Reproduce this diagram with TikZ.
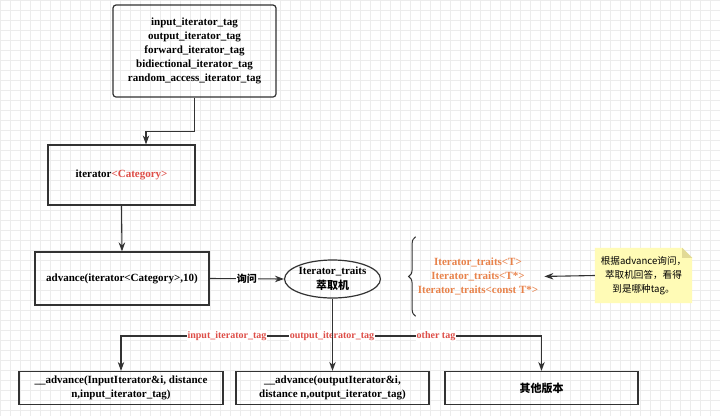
\documentclass[tikz,border=0pt]{standalone}
\usepackage{fontspec}
\setmainfont{Liberation Serif}
\newfontfamily\cjk{Noto Sans CJK SC}
\usepackage{tikz}
\usetikzlibrary{arrows.meta, positioning, decorations.pathreplacing, shapes.geometric, backgrounds}
\usepackage{xcolor}
\definecolor{tagred}{RGB}{222,78,72}
\definecolor{traitorange}{RGB}{232,130,74}
\definecolor{boxline}{RGB}{50,50,50}
\definecolor{notefill}{RGB}{255,251,182}
\definecolor{notefold}{RGB}{226,218,150}
\definecolor{gridgray}{RGB}{236,236,236}
\begin{document}
\begin{tikzpicture}[x=1pt, y=-1pt, font=\bfseries\fontsize{11}{14}\selectfont,
    blk/.style={draw=boxline, line width=1.2pt, align=center, inner sep=2pt},
    lbl/.style={text=tagred, fill=white, inner sep=1pt, font=\bfseries\fontsize{10}{12}\selectfont},
    arr/.style={draw=boxline, line width=1.1pt, -{Stealth[length=9pt, width=6.5pt]}}]
    \useasboundingbox (0,0) rectangle (720,416);
    \begin{scope}[on background layer]
      \fill[white] (0,0) rectangle (720,416);
      \foreach \gx in {0,10,...,720} \draw[gridgray, line width=0.5pt] (\gx,0) -- (\gx,416);
      \foreach \gy in {0,10,...,410} \draw[gridgray, line width=0.5pt] (0,\gy) -- (720,\gy);
    \end{scope}
    \node[blk, rounded corners=3pt, minimum width=163pt, minimum height=92pt] (tags) at (194.5,51)
      {input\_iterator\_tag\\output\_iterator\_tag\\forward\_iterator\_tag\\bidiectional\_iterator\_tag\\random\_access\_iterator\_tag};
    \node[blk, minimum width=147pt, minimum height=60pt] (iter) at (121.5,175) {iterator\textcolor{tagred}{<Category>}};
    \node[blk, minimum width=174pt, minimum height=53pt] (adv) at (122,278.5) {advance(iterator<Category>,10)};
    \node[ellipse, draw=boxline, line width=1.2pt, inner sep=0pt, minimum width=91pt, minimum height=38pt, align=center,
      font=\bfseries\fontsize{11}{15}\selectfont] (trait) at (332.5,279) {Iterator\_traits\\{\cjk 萃取机}};
    \node[text=traitorange, align=center, minimum height=79pt, inner sep=2pt] (traits) at (478,276.5)
      {Iterator\_traits<T>\\Iterator\_traits<T*>\\Iterator\_traits<const T*>};
    \node[align=center, minimum width=97pt, minimum height=55pt, inner sep=1pt,
      font=\cjk\fontsize{9.6}{14}\selectfont] (note) at (643.5,275.5) {根据advance询问，\\萃取机回答，看得\\到是哪种tag。};
    \begin{scope}[on background layer]
      \fill[notefill] (note.south west) -- (note.north west) -- ([xshift=-10pt]note.north east)
        -- ([yshift=-10pt]note.north east) -- (note.south east) -- cycle;
      \fill[notefold] ([xshift=-10pt]note.north east) -- ([yshift=-10pt]note.north east) -- ([xshift=-10pt, yshift=-10pt]note.north east) -- cycle;
    \end{scope}
    \node[blk, minimum width=204pt, minimum height=33pt] (io1) at (121,388)
      {\_\_advance(InputIterator\&i, distance\\n,input\_iterator\_tag)};
    \node[blk, minimum width=193pt, minimum height=33pt] (io2) at (332.5,388)
      {\_\_advance(outputIterator\&i,\\distance n,output\_iterator\_tag)};
    \node[blk, minimum width=193pt, minimum height=33pt] (other) at (541.5,388) {\cjk 其他版本};
    \draw[arr] (tags.south) -- ++(0,34) -| ([xshift=24.5pt]iter.north);
    \draw[arr] (iter.south) -- (adv.north);
    \draw[arr] (adv.east) -- node[fill=white, inner sep=1pt, font=\cjk\bfseries\fontsize{10}{12}\selectfont] (ask) {询问} (trait.west);
    \draw[boxline, line width=1pt, decorate, decoration={brace, amplitude=7pt}] (traits.south west) -- (traits.north west);
    \draw[arr, shorten >=4pt] (note.west) -- (traits.east);
    \coordinate (split) at (trait.south |- 0,336);
    \draw[arr] (split) -| (io1.north); \draw[arr] (split) -| (other.north);
    \node[lbl] (t1) at (227,336) {input\_iterator\_tag};
    \node[lbl] (t2) at (332,336) {output\_iterator\_tag};
    \node[lbl] (t3) at (436,336) {other tag};
    \draw[arr] (trait.south) -- (io2.north);
  \end{tikzpicture}
\end{document}
